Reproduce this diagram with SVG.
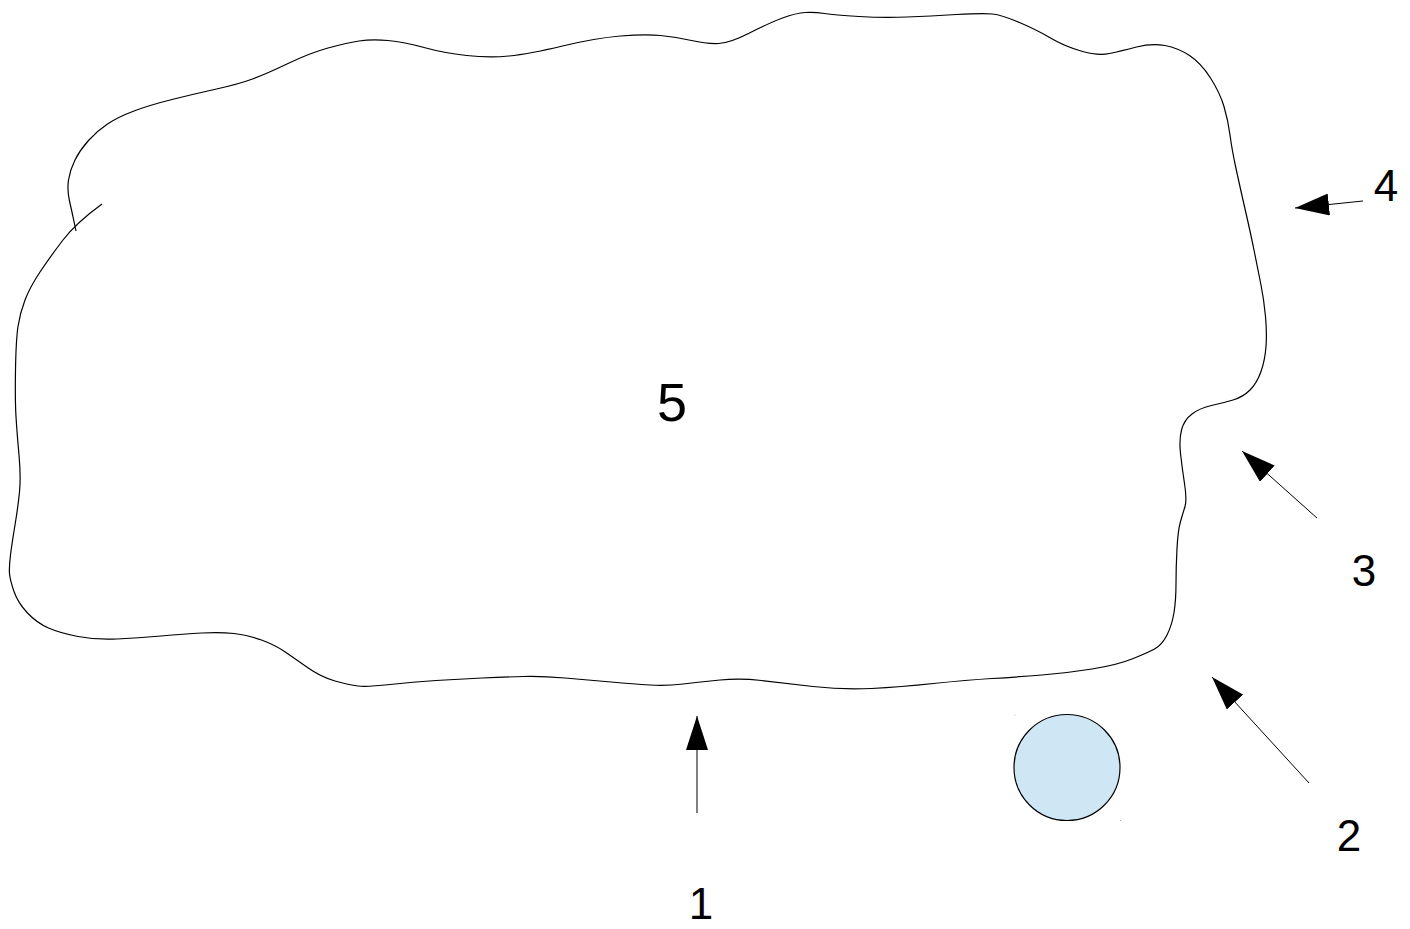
<svg xmlns="http://www.w3.org/2000/svg" width="1410" height="929" viewBox="0 0 1410 929">
<style>
.outline{fill:none;stroke:#000;stroke-width:1.2}
.conn{fill:none;stroke:#000;stroke-width:1}
.lbl{font-family:"Liberation Sans",Arial,sans-serif;font-size:44px;fill:#000;text-anchor:middle}
.big{font-size:54px}
</style>
<defs>
<marker id="ah" viewBox="0 -11 34 22" refX="34" refY="0" markerWidth="34" markerHeight="22" markerUnits="userSpaceOnUse" orient="auto">
<path d="M0,-11 L34,0 L0,11 z" fill="#000"/>
</marker>
</defs>
<rect width="1410" height="929" fill="#fff"/>
<g id="region5">
<path class="outline" d="M76,231 L74,221.5 Q72,212 69.5,201 Q67,190 68.5,180 Q70,170 75,160 Q80,150 88.5,140.5 Q97,131 107.5,124 Q118,117 134,111 Q150,105 172,99.5 Q194,94 216.5,89 Q239,84 252.5,79 Q266,74 288,63.5 Q310,53 328,48 Q346,43 359,41 Q372,39 388,40.5 Q404,42 424,47.5 Q444,53 466.5,55.5 Q489,58 509,56 Q529,54 562.5,46 Q596,38 620.5,36 Q645,34 660.5,35.5 Q676,37 691.5,40.5 Q707,44 718.5,43.5 Q730,43 749.5,33 Q769,23 782.5,18 Q796,13 805.5,12.5 Q815,12 824.5,13.5 Q834,15 859,16.5 Q884,18 907,17 Q930,16 956.5,14.5 Q983,13 992.5,14 Q1002,15 1019.5,22.5 Q1037,30 1050.5,38 Q1064,46 1081,51 Q1098,56 1109.5,53.5 Q1121,51 1136.5,47 Q1152,43 1165,45.5 Q1178,48 1189.5,55.5 Q1201,63 1210.5,78 Q1220,93 1224,106.5 Q1228,120 1230,135 Q1232,150 1236,168.5 Q1240,187 1245.5,211 Q1251,235 1254.5,252.5 Q1258,270 1261,285 Q1264,300 1265.5,316.5 Q1267,333 1266,346.5 Q1265,360 1261,371.5 Q1257,383 1250,390 Q1243,397 1233,400 Q1223,403 1211.5,405.5 Q1200,408 1192,414 Q1184,420 1181.5,430 Q1179,440 1180.5,453.5 Q1182,467 1184.5,483.5 Q1187,500 1185,506.5 Q1183,513 1180.5,521.5 Q1178,530 1177,548.5 Q1176,567 1176,583.5 Q1176,600 1174,612.5 Q1172,625 1167,635 Q1162,645 1154.5,649 Q1147,653 1132,659 Q1117,665 1092,669 Q1067,673 1042,675 Q1017,677 992,678.5 Q967,680 933.5,683.5 Q900,687 871.5,688.5 Q843,690 813,686.5 Q783,683 761.5,680.5 Q740,678 720,680 Q700,682 683,684 Q666,686 650,685 Q634,684 611,682 Q588,680 565,678 Q542,676 523.5,676.5 Q505,677 482,678 Q459,679 436,680.5 Q413,682 390,684.5 Q367,687 358,686 Q349,685 335,681 Q321,677 307.5,667.5 Q294,658 284.5,651.5 Q275,645 261.5,640 Q248,635 234,633.5 Q220,632 202,633 Q184,634 161,636 Q138,638 117,639 Q96,640 78,636.5 Q60,633 48.5,628 Q37,623 27.5,613 Q18,603 14,591.5 Q10,580 9.5,573.5 Q9,567 10.5,555 Q12,543 15,525 Q18,507 19.5,492 Q21,477 19,455 Q17,433 16,416.5 Q15,400 15.5,370 Q16,340 18,326.5 Q20,313 25,300 Q30,287 40,272 Q50,257 63,240 Q76,223 102,204"/>
<text class="lbl big" x="672" y="421">5</text>
</g>
<g id="ball">
<circle cx="1067" cy="767.5" r="53" fill="#cfe7f5" stroke="#000" stroke-width="1.2"/>
<rect x="1014.5" y="714.5" width="1" height="1" fill="#aaa"/>
<rect x="1120" y="820" width="1" height="1" fill="#aaa"/>
</g>
<g id="connectors">
<line class="conn" x1="697" y1="813" x2="697" y2="716" marker-end="url(#ah)"/>
<line class="conn" x1="1309" y1="783" x2="1212" y2="677" marker-end="url(#ah)"/>
<line class="conn" x1="1317" y1="518" x2="1242" y2="451" marker-end="url(#ah)"/>
<line class="conn" x1="1363" y1="201" x2="1295" y2="208" marker-end="url(#ah)"/>
</g>
<g id="label1"><text class="lbl" x="701" y="919">1</text></g>
<g id="label2"><text class="lbl" x="1349" y="851">2</text></g>
<g id="label3"><text class="lbl" x="1364" y="586">3</text></g>
<g id="label4"><text class="lbl" x="1386" y="201">4</text></g>
</svg>
